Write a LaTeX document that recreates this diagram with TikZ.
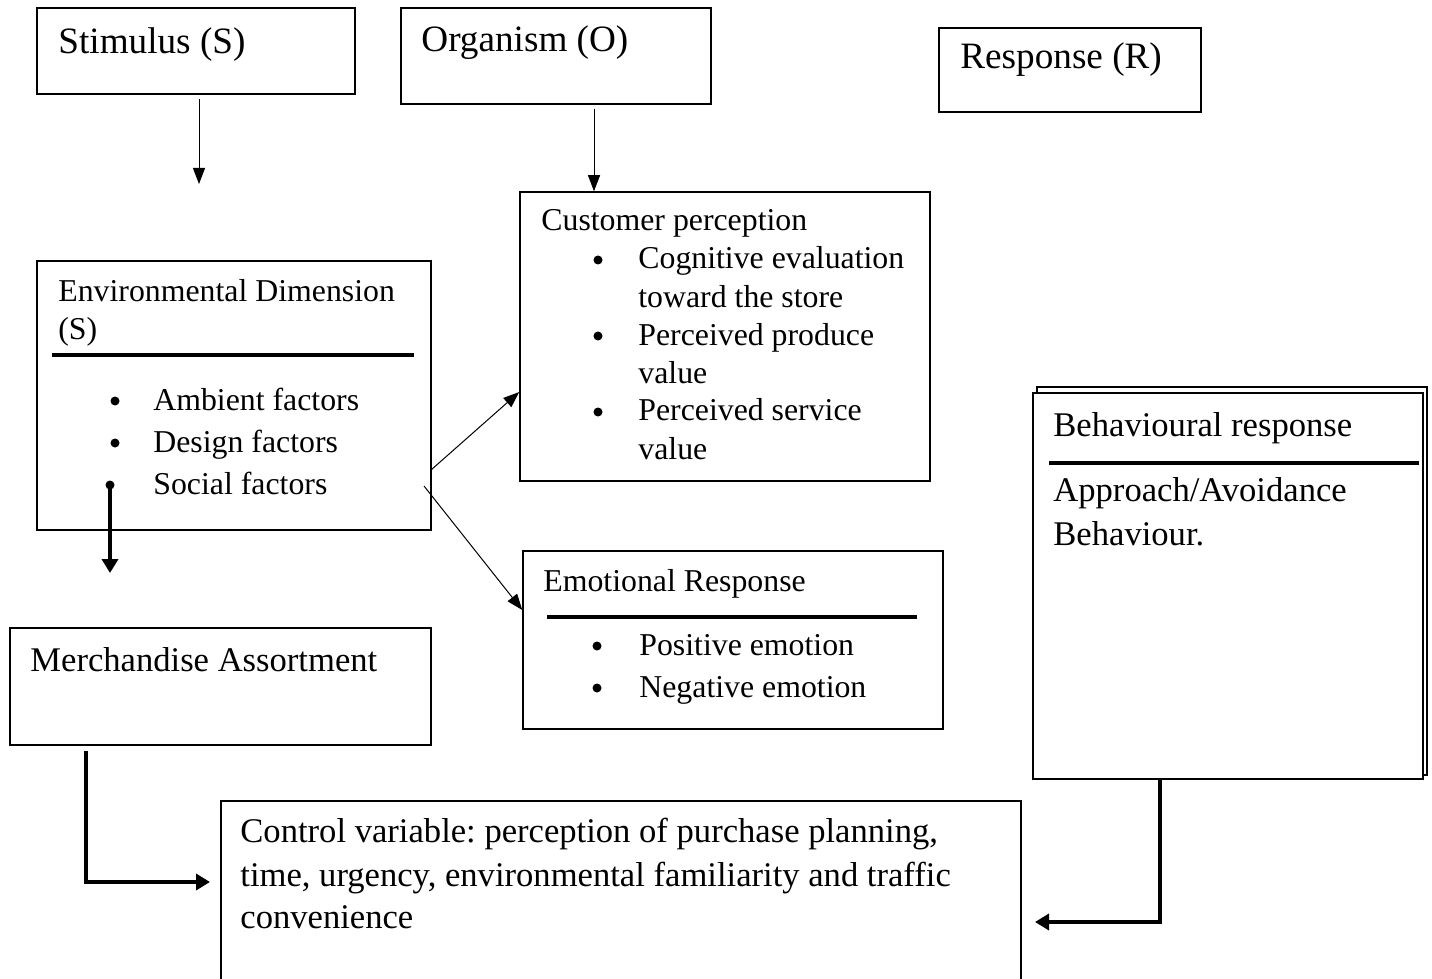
\documentclass[tikz,border=0pt]{standalone}
\usepackage{fontspec}
\setmainfont{Liberation Serif}
\usetikzlibrary{
    positioning,
    fit,
    arrows.meta
    }

\tikzset{box/.style =
        {
            draw,
            line width=0.75pt,
            fill=white,
            inner sep=0pt
        }
}

\tikzset{txt/.style =
        {
            anchor=base west,
            inner sep=0pt,
            font=\fontsize{15.9}{21}\selectfont
        }
}

\tikzset{big/.style = { font=\fontsize{18.6}{24}\selectfont } }
\tikzset{mid/.style = { font=\fontsize{17.3}{23}\selectfont } }

\tikzset{rule/.style = { line width=2.2pt } }

\tikzset{thin arrow/.style =
        {
            line width=0.5pt,
            -{Triangle[length=8pt,width=6pt]}
        }
}

\tikzset{thick arrow/.style =
        {
            line width=2.2pt,
            -{Triangle[length=7pt,width=8pt]}
        }
}

\begin{document}
\frenchspacing
\begin{tikzpicture}[x=0.5pt, y=-0.5pt]
		\useasboundingbox (0,0) rectangle (1432,979);
		\clip (0,0) rectangle (1432,979);

		% boxes
		\node[box, fit={(37,8) (355,94)}] (stim) {};
		\node[box, fit={(401,8) (711,104)}] (org) {};
		\node[box, fit={(939,28) (1201,112)}] (resp) {};
		\node[box, fit={(520,192) (930,481)}] (cust) {};
		\node[box, fit={(37,261) (431,530)}] (env) {};
		\node[box, fit={(523,551) (943,729)}] (emo) {};
		\node[box, fit={(10,628) (431,745)}] (merch) {};
		\node[box, fit={(221,801) (1021,1000)}] (ctrl) {};
		\node[box, fit={(1037,387) (1427,775)}] (behav-back) {};
		\node[box, fit={(1033,393) (1423,779)}] (behav) {};

		% texts
		\foreach \x / \y / \s / \t in
			{58/54/big/Stimulus (S),
				421/52/big/Organism (O),
				960/69/big/Response (R),
				541/231/txt/Customer perception,
				638/269/txt/Cognitive evaluation,
				638/307/txt/toward the store,
				638/345/txt/Perceived produce,
				638/383/txt/value,
				638/421/txt/Perceived service,
				638/459/txt/value,
				58/301/txt/Environmental Dimension,
				58/340/txt/(S),
				153/410/txt/Ambient factors,
				153/452/txt/Design factors,
				153/494/txt/Social factors,
				543/591/txt/Emotional Response,
				639/655/txt/Positive emotion,
				639/697/txt/Negative emotion,
				30/671/mid/Merchandise Assortment,
				240/842/mid/{Control variable: perception of purchase planning,},
				240/886/mid/{time, urgency, environmental familiarity and traffic},
				240/928/mid/convenience,
				1053/437/mid/Behavioural response,
				1053/502/mid/{Approach/Avoidance},
				1053/545/mid/Behaviour.}
		\node[txt, \s] at (\x,\y) {\t};

		% bullets
		\foreach \x / \y / \n in
			{598/260/c1, 598/336/c2, 598/412/c3,
				115/401/e1, 115/443/e2, 110/485/e3,
				597/646/m1, 597/688/m2}
		\fill (\x,\y) circle [radius=4.5] coordinate (dot-\n);

		% rules under headings
		\draw[rule] (52,355) -- (414,355);
		\draw[rule] (547,617) -- (917,617);
		\draw[rule] (1049,463) -- (1419,463);

		% free ends
		\coordinate (s-end) at (199,184);
		\coordinate (e-out1) at (431,470);
		\coordinate (e-out2) at (424,486);
		\coordinate (e-down) at (110,573);
		\coordinate (m-bend) at (86,882);
		\coordinate (m-end) at (210,882);
		\coordinate (b-bend) at (1160,922);
		\coordinate (b-end) at (1035,922);

		\draw[thin arrow] ([yshift=-2pt]stim.south -| s-end) -- (s-end);
		\draw[thin arrow] ([yshift=-2pt]org.south -| 594,0) -- (cust.north -| 594,0);
		\draw[thin arrow] (e-out1) -- (cust.west |- 0,392);
		\draw[thin arrow] (e-out2) -- (emo.west |- 0,610);
		\draw[thick arrow] (dot-e3) -- (e-down);
		\draw[thick arrow] ([yshift=-2.5pt]merch.south -| m-bend) -- (m-bend) -- (m-end);
		\draw[thick arrow] (behav.south -| b-bend) -- (b-bend) -- (b-end);

	\end{tikzpicture}
\end{document}
